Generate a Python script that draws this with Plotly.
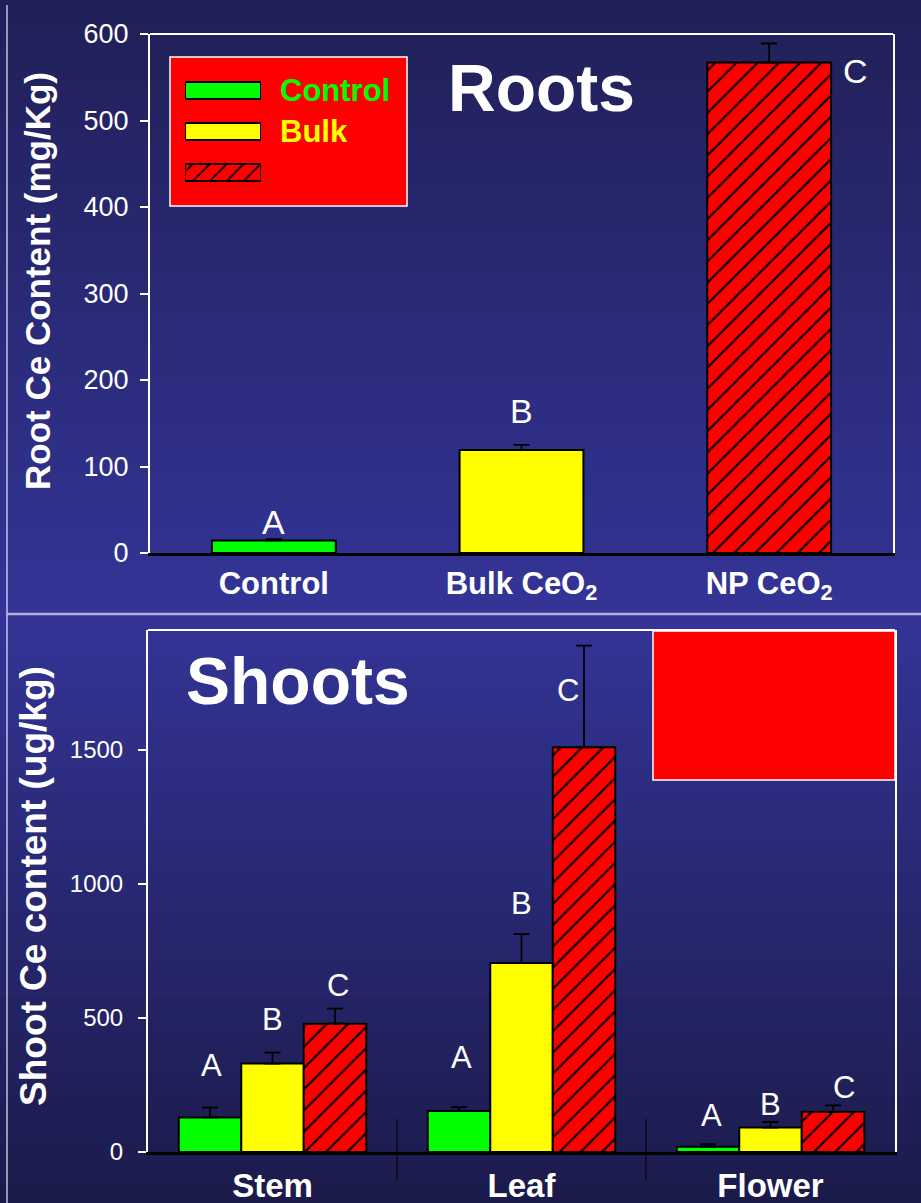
import plotly.graph_objects as go

# ---------------- data ----------------
root_categories = ["<b>Control</b>", "<b>Bulk CeO<sub>2</sub></b>", "<b>NP CeO<sub>2</sub></b>"]
root_values = [14.5, 119, 567]
root_errors = [1.5, 6, 22]
root_letters = ["A", "B", "C"]
root_letter_y = [36, 164, 557]
root_letter_dx = [0.0, 0.0, 0.35]

shoot_tissues = ["<b>Stem</b>", "<b>Leaf</b>", "<b>Flower</b>"]
control_values = [129, 153, 20]
control_errors = [37, 14, 9]
bulk_values = [330, 705, 91]
bulk_errors = [41, 108, 21]
np_values = [479, 1510, 150]
np_errors = [56, 380, 24]

shoot_letters = [["A", "B", "C"], ["A", "B", "C"], ["A", "B", "C"]]
shoot_letter_y = [[321, 496, 623], [351, 929, 1724], [138, 179, 239]]
shoot_letter_dx = [[-0.243, 0.0, 0.263], [-0.24, 0.0, 0.187], [-0.235, 0.0, 0.295]]

legend_labels = ["Control", "Bulk", "NP"]
legend_text_colors = ["#00ff00", "#ffff00", "#ff0000"]

GREEN = "#00ff00"
YELLOW = "#ffff00"
RED = "#ff0000"
FILLS = [GREEN, YELLOW, RED]
PATTERNS = ["", "", "/"]
FONT = "Liberation Sans, Arial, sans-serif"

W, H = 921, 1203


def px(x):
    return x / W


def py(y):
    return 1 - y / H


def bar_marker(col, pat, size=15):
    m = dict(color=col, line=dict(color="black", width=2))
    if pat:
        m["pattern"] = dict(shape=pat, fgcolor="#000000", fgopacity=1, bgcolor=col,
                            fillmode="replace", size=size, solidity=0.14)
    return m


fig = go.Figure()

# ---------------- top panel: roots ----------------
for cat, val, err, col, pat in zip(root_categories, root_values, root_errors, FILLS, PATTERNS):
    fig.add_trace(go.Bar(
        x=[cat], y=[val], width=0.5, offsetgroup="roots",
        marker=bar_marker(col, pat),
        error_y=dict(type="data", symmetric=False, array=[err], arrayminus=[0],
                     color="black", thickness=1.8, width=8),
        xaxis="x", yaxis="y", showlegend=False,
    ))

# ---------------- bottom panel: shoots ----------------
for name, vals, errs, col, pat in zip(
    legend_labels,
    [control_values, bulk_values, np_values],
    [control_errors, bulk_errors, np_errors],
    FILLS, PATTERNS,
):
    fig.add_trace(go.Bar(
        x=shoot_tissues, y=vals, name=name,
        marker=bar_marker(col, pat),
        error_y=dict(type="data", symmetric=False, array=errs,
                     arrayminus=[0] * len(errs), color="black", thickness=1.8, width=8),
        xaxis="x2", yaxis="y2", showlegend=False,
    ))

# ---------------- legend swatches (own tiny axes) ----------------
for k, (col, pat) in enumerate(zip(FILLS, PATTERNS)):
    fig.add_trace(go.Bar(
        y=[k], x=[1], orientation="h", width=0.42, offsetgroup="leg",
        marker=bar_marker(col, pat, size=12),
        xaxis="x3", yaxis="y3", showlegend=False, hoverinfo="skip",
    ))

# ---------------- background gradient ----------------
shapes = []


def lerp(c1, c2, t):
    return "rgb(%d,%d,%d)" % tuple(round(a + (b - a) * t) for a, b in zip(c1, c2))


top_c, mid_c, bot_c = (32, 32, 88), (51, 52, 150), (27, 27, 75)
n = 60
for i in range(n):
    y0 = 614 * i / n
    y1 = 614 * (i + 1) / n + 1
    shapes.append(dict(type="rect", xref="paper", yref="paper", x0=0, x1=1,
                       y0=py(y1), y1=py(y0), fillcolor=lerp(top_c, mid_c, i / (n - 1)),
                       line=dict(width=0), layer="below"))
for i in range(n):
    y0 = 614 + (H - 614) * i / n
    y1 = 614 + (H - 614) * (i + 1) / n + 1
    shapes.append(dict(type="rect", xref="paper", yref="paper", x0=0, x1=1,
                       y0=max(0, py(y1)), y1=py(y0), fillcolor=lerp(mid_c, bot_c, i / (n - 1)),
                       line=dict(width=0), layer="below"))

# slide frame lines
shapes.append(dict(type="line", xref="paper", yref="paper", x0=px(7), x1=px(7), y0=0, y1=py(5),
                   line=dict(color="rgba(220,220,240,0.85)", width=1.5), layer="below"))
shapes.append(dict(type="line", xref="paper", yref="paper", x0=px(7), x1=1, y0=py(614), y1=py(614),
                   line=dict(color="rgba(190,190,225,0.9)", width=2.5), layer="below"))

# plot frames (white top lines)
shapes.append(dict(type="line", xref="x domain", yref="y domain", x0=0, x1=1, y0=1, y1=1,
                   line=dict(color="white", width=2), layer="below"))
shapes.append(dict(type="line", xref="x2 domain", yref="y2 domain", x0=0, x1=1, y0=1, y1=1,
                   line=dict(color="white", width=2), layer="below"))

# legend box (top)
shapes.append(dict(type="rect", xref="paper", yref="paper", x0=px(170), x1=px(407),
                   y0=py(206), y1=py(57), fillcolor=RED, line=dict(color="white", width=1.5),
                   layer="below"))
# legend box (bottom, empty red)
shapes.append(dict(type="rect", xref="paper", yref="paper", x0=px(653), x1=px(895),
                   y0=py(780), y1=py(631), fillcolor=RED, line=dict(color="white", width=1.5),
                   layer="above"))

# group separators in shoots panel
for b in [0.5, 1.5]:
    shapes.append(dict(type="line", xref="x2", yref="paper", x0=b, x1=b,
                       y0=py(1180), y1=py(1119), line=dict(color="black", width=1)))

# ---------------- annotations ----------------
ann = []
for i, (lt, ly, dx) in enumerate(zip(root_letters, root_letter_y, root_letter_dx)):
    ann.append(dict(x=i + dx, y=ly, xref="x", yref="y", text=lt, showarrow=False,
                    xanchor="center", yanchor="middle",
                    font=dict(family=FONT, size=34, color="white")))
for i in range(len(shoot_tissues)):
    for j in range(3):
        ann.append(dict(x=i + shoot_letter_dx[i][j], y=shoot_letter_y[i][j], xref="x2", yref="y2",
                        text=shoot_letters[i][j], showarrow=False,
                        xanchor="center", yanchor="middle",
                        font=dict(family=FONT, size=31, color="white")))

ann.append(dict(x=px(541), y=py(88), xref="paper", yref="paper", text="<b>Roots</b>",
                showarrow=False, xanchor="center", yanchor="middle",
                font=dict(family=FONT, size=66, color="white")))
ann.append(dict(x=px(298), y=py(681), xref="paper", yref="paper", text="<b>Shoots</b>",
                showarrow=False, xanchor="center", yanchor="middle",
                font=dict(family=FONT, size=66, color="white")))

ann.append(dict(x=px(37), y=py(281), xref="paper", yref="paper",
                text="<b>Root Ce Content (mg/Kg)</b>", textangle=-90, showarrow=False,
                xanchor="center", yanchor="middle",
                font=dict(family=FONT, size=35, color="white")))
ann.append(dict(x=px(33), y=py(886), xref="paper", yref="paper",
                text="<b>Shoot Ce content (ug/kg)</b>", textangle=-90, showarrow=False,
                xanchor="center", yanchor="middle",
                font=dict(family=FONT, size=37, color="white")))

for k, (lab, col) in enumerate(zip(legend_labels, legend_text_colors)):
    ann.append(dict(x=px(278), y=py(90 + 41 * k), xref="paper", yref="paper",
                    xanchor="left", yanchor="middle",
                    text="<b>%s</b>" % lab, showarrow=False,
                    font=dict(family=FONT, size=31, color=col)))

fig.update_layout(
    width=W, height=H, margin=dict(l=0, r=0, t=0, b=0, autoexpand=False),
    paper_bgcolor="#2a2a78", plot_bgcolor="rgba(0,0,0,0)",
    barmode="group", bargap=0.247, bargroupgap=0,
    font=dict(family=FONT, color="white"),
    shapes=shapes, annotations=ann,
    xaxis=dict(domain=[px(150), px(893)], anchor="y", range=[-0.5, 2.5], type="category",
               showline=True, linecolor="black", linewidth=2.5, ticks="", showgrid=False,
               automargin=False,
               tickfont=dict(family=FONT, size=31, color="white"), ticklabelstandoff=1),
    yaxis=dict(domain=[py(553), py(34)], anchor="x", range=[0, 600],
               tickvals=[0, 100, 200, 300, 400, 500, 600],
               showline=True, linecolor="white", linewidth=2, mirror=True, ticks="outside",
               ticklen=8, tickwidth=1.5, tickcolor="white", showgrid=False, zeroline=False,
               automargin=False,
               tickfont=dict(family=FONT, size=27, color="white"), ticklabelstandoff=6),
    xaxis2=dict(domain=[px(148), px(895)], anchor="y2", range=[-0.5, 2.5], type="category",
                showline=True, linecolor="black", linewidth=2.5, ticks="", showgrid=False,
                automargin=False,
                tickfont=dict(family=FONT, size=33, color="white"), ticklabelstandoff=3),
    yaxis2=dict(domain=[py(1152), py(630)], anchor="x2", range=[0, 1948],
                tickvals=[0, 500, 1000, 1500],
                showline=True, linecolor="white", linewidth=2, mirror=True, ticks="outside",
                ticklen=8, tickwidth=1.5, tickcolor="white", showgrid=False, zeroline=False,
                automargin=False,
                tickfont=dict(family=FONT, size=24, color="white"), ticklabelstandoff=10),
    xaxis3=dict(domain=[px(185), px(261)], anchor="y3", range=[0, 1], visible=False,
                fixedrange=True, automargin=False),
    yaxis3=dict(domain=[py(193), py(70)], anchor="x3", range=[2.5, -0.5], visible=False,
                fixedrange=True, automargin=False),
)

fig.write_html(
    "out.html",
    config={"displayModeBar": False},
    post_script="document.body.style.margin='0';document.body.style.overflow='hidden';",
)
